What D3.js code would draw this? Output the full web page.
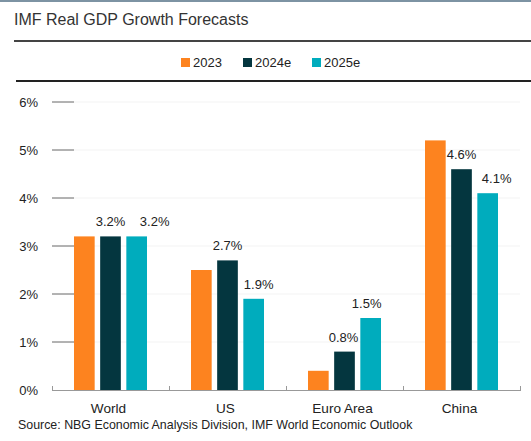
<!DOCTYPE html>
<html>
<head>
<meta charset="utf-8">
<script src="https://cdn.jsdelivr.net/npm/d3@7"></script>
<style>
  html, body { margin: 0; padding: 0; background: #fff; }
  svg { display: block; font-family: "Liberation Sans", Arial, sans-serif; }
</style>
</head>
<body>
<svg id="chart" width="531" height="441"></svg>
<script>
// Regions on the x axis
const regions = ["World", "US", "Euro Area", "China"];
// Series: one value (%) per region
const seriesNames = ["2023", "2024e", "2025e"];
const values2023 = [3.2, 2.5, 0.4, 5.2];
const values2024e = [3.2, 2.7, 0.8, 4.6];
const values2025e = [3.2, 1.9, 1.5, 4.1];
// Y axis ticks (%)
const yTicks = [0, 1, 2, 3, 4, 5, 6];
// Which series carry value labels
const labelledSeries = ["2024e", "2025e"];

const colors = { "2023": "#fd831f", "2024e": "#04363f", "2025e": "#00acbd" };
// Horizontal nudges for the value labels, per region
const labelNudge = { "2024e": [0, 0, -1, 0], "2025e": [18, 5, -4, 9] };

const series = [
  { name: "2023", values: values2023 },
  { name: "2024e", values: values2024e },
  { name: "2025e", values: values2025e }
];

const svg = d3.select("#chart");

// Frame: top border, title, rules
svg.append("line").attr("x1", 0).attr("x2", 531).attr("y1", 1).attr("y2", 1)
  .attr("stroke", "#7d93a3").attr("stroke-width", 2);
svg.append("text").attr("x", 14).attr("y", 25)
  .attr("font-size", 16).attr("fill", "#333")
  .text("IMF Real GDP Growth Forecasts");
svg.append("line").attr("x1", 14).attr("x2", 531).attr("y1", 41).attr("y2", 41)
  .attr("stroke", "#444").attr("stroke-width", 2);
svg.append("line").attr("x1", 16).attr("x2", 531).attr("y1", 81).attr("y2", 81)
  .attr("stroke", "#222").attr("stroke-width", 2);

// Legend
const legendX = [181, 243, 312];
const legend = svg.append("g");
seriesNames.forEach((name, i) => {
  const g = legend.append("g").attr("transform", `translate(${legendX[i]},58)`);
  g.append("rect").attr("width", 9).attr("height", 9).attr("fill", colors[name]);
  g.append("text").attr("x", 12).attr("y", 9).attr("font-size", 13).attr("fill", "#222").text(name);
});

// Scales
const x = d3.scaleBand().domain(regions).range([52, 520]).paddingInner(0).paddingOuter(0);
const xInner = d3.scaleBand().domain(seriesNames).range([-36.5, 36.5]).paddingInner(0.21).paddingOuter(0);
const y = d3.scaleLinear().domain([0, 6]).range([390, 102]);

// Gridlines (faint) and left tick dashes
const grid = svg.append("g");
grid.selectAll("line.g").data(yTicks.filter(d => d > 0)).join("line")
  .attr("x1", 74).attr("x2", 520)
  .attr("y1", d => y(d)).attr("y2", d => y(d))
  .attr("stroke", "#f3f3f3").attr("stroke-width", 1);
grid.selectAll("line.t").data(yTicks.filter(d => d > 0)).join("line")
  .attr("x1", 52).attr("x2", 74)
  .attr("y1", d => y(d)).attr("y2", d => y(d))
  .attr("stroke", "#666").attr("stroke-width", 1);

// Y axis labels
svg.append("g").selectAll("text").data(yTicks).join("text")
  .attr("x", 38).attr("y", d => y(d) + 4.5)
  .attr("text-anchor", "end").attr("font-size", 13).attr("fill", "#222")
  .text(d => d + "%");

// Bars
const groups = svg.append("g").selectAll("g").data(series).join("g")
  .attr("fill", d => colors[d.name]);
groups.selectAll("rect").data(s => s.values.map((v, i) => ({ name: s.name, region: regions[i], value: v })))
  .join("rect")
  .attr("x", d => x(d.region) + x.bandwidth() / 2 + xInner(d.name))
  .attr("width", xInner.bandwidth())
  .attr("y", d => y(d.value))
  .attr("height", d => y(0) - y(d.value));

// Value labels
const labels = svg.append("g");
series.filter(s => labelledSeries.includes(s.name)).forEach(s => {
  s.values.forEach((v, i) => {
    const cx = x(regions[i]) + x.bandwidth() / 2 + xInner(s.name) + xInner.bandwidth() / 2;
    labels.append("text")
      .attr("x", cx + labelNudge[s.name][i])
      .attr("y", y(v) - 10)
      .attr("text-anchor", "middle").attr("font-size", 13).attr("fill", "#222")
      .text(v.toFixed(1) + "%");
  });
});

// X axis with boundary ticks pointing up
const xAxis = svg.append("g");
xAxis.append("line").attr("x1", 52).attr("x2", 520).attr("y1", 390.5).attr("y2", 390.5)
  .attr("stroke", "#999").attr("stroke-width", 1);
const bounds = regions.map(r => x(r)).concat([x(regions[regions.length - 1]) + x.bandwidth()]);
xAxis.selectAll("line.b").data(bounds).join("line")
  .attr("x1", d => Math.round(d) + 0.5).attr("x2", d => Math.round(d) + 0.5)
  .attr("y1", 386).attr("y2", 391)
  .attr("stroke", "#999").attr("stroke-width", 1);
xAxis.selectAll("text").data(regions).join("text")
  .attr("x", d => x(d) + x.bandwidth() / 2 - 2)
  .attr("y", 413)
  .attr("text-anchor", "middle").attr("font-size", 13.6).attr("fill", "#222")
  .text(d => d);

// Source note
svg.append("text").attr("x", 18).attr("y", 429)
  .attr("font-size", 12.4).attr("fill", "#222")
  .text("Source: NBG Economic Analysis Division, IMF World Economic Outlook");
</script>
</body>
</html>
